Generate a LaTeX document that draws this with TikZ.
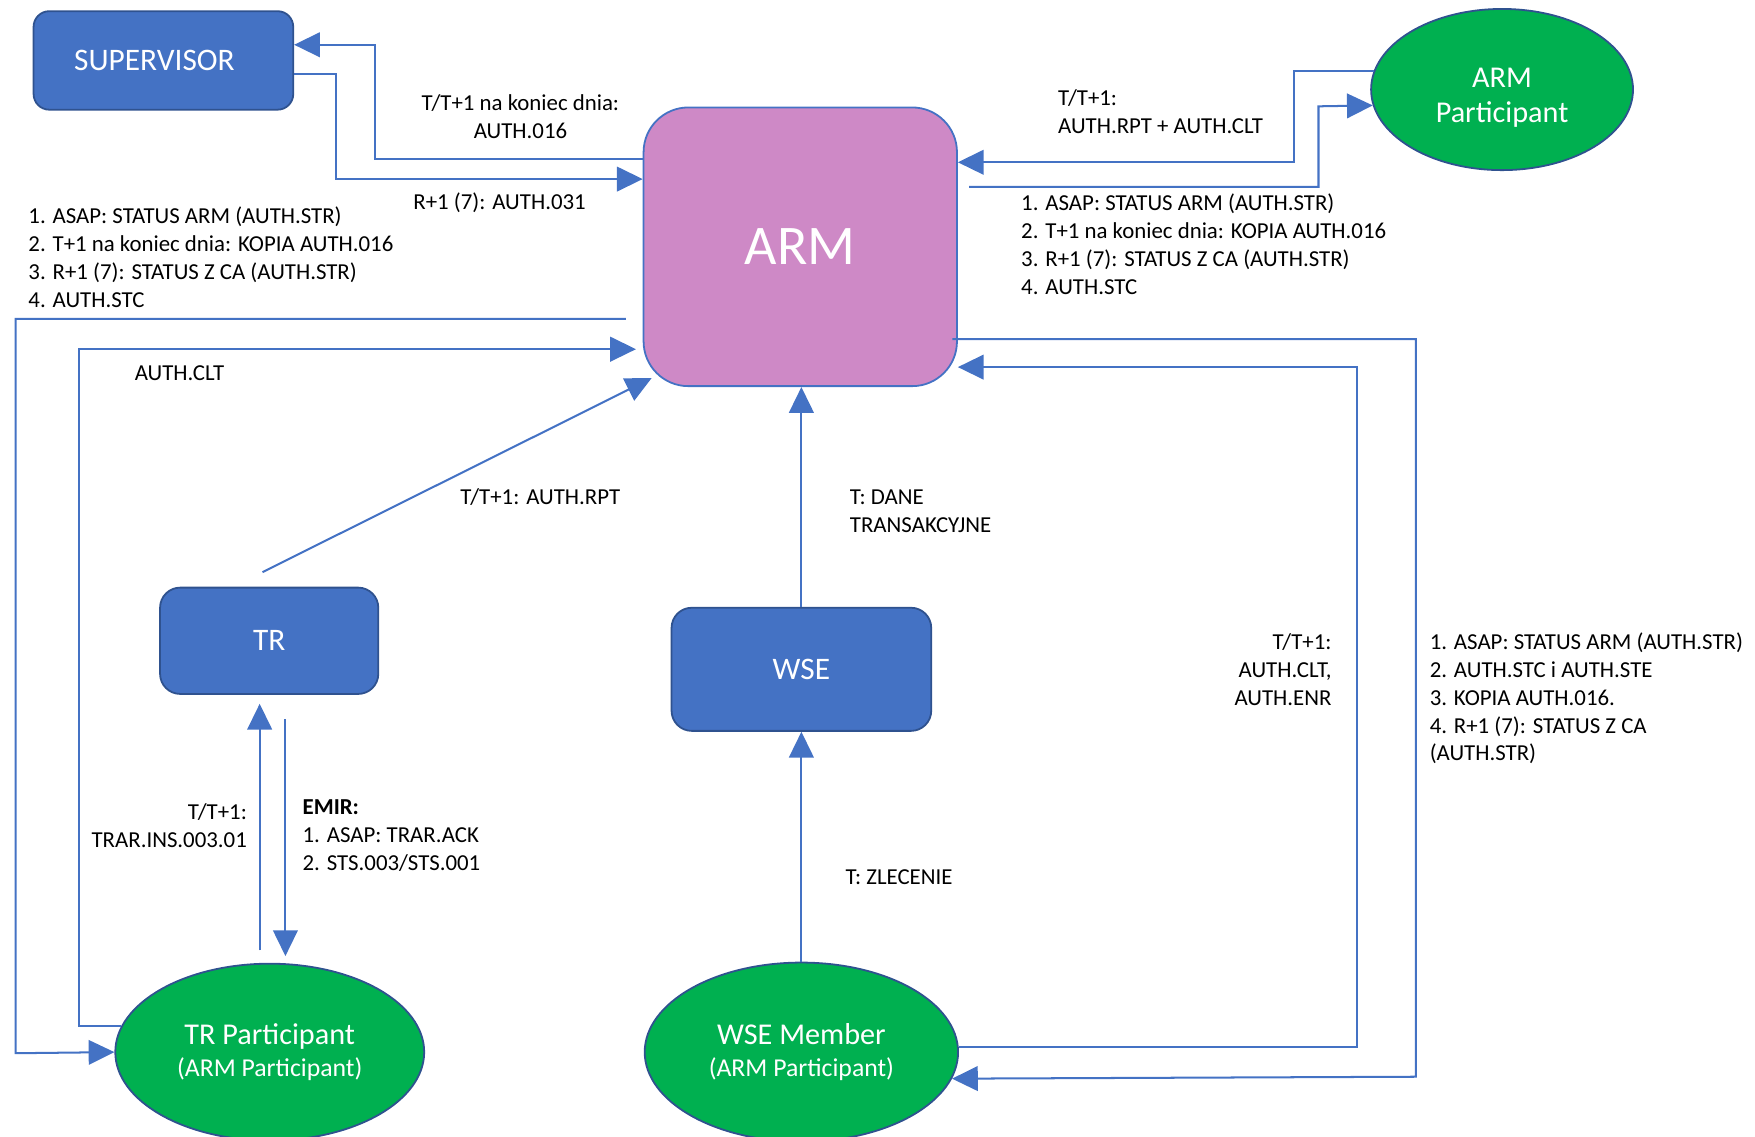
\documentclass[tikz,border=0pt]{standalone}
\usepackage{fontspec}
\setmainfont{Carlito}
\usetikzlibrary{arrows.meta,shapes.geometric,calc}
\definecolor{boxblue}{RGB}{68,114,196}
\definecolor{edgeblue}{RGB}{47,82,143}
\definecolor{armpink}{RGB}{206,137,198}
\definecolor{partgreen}{RGB}{0,176,80}
\begin{document}
\begin{tikzpicture}[x=0.5pt,y=-0.5pt,
  bluebox/.style={draw=edgeblue, line width=0.8pt, fill=boxblue, rounded corners=9pt, text=white, font=\fontsize{14}{16}\selectfont},
  armbox/.style={draw=boxblue, line width=0.8pt, fill=armpink, rounded corners=20pt, text=white, font=\fontsize{25}{28}\selectfont, minimum width=140pt, minimum height=124.5pt},
  greenell/.style={ellipse, draw=edgeblue, line width=0.8pt, fill=partgreen, text=white, align=center, inner sep=0pt, font=\fontsize{13.5}{15.5}\selectfont},
  conn/.style={draw=boxblue, line width=0.9pt},
  arr/.style={conn, -{Triangle[length=11.5pt,width=11pt]}},
  lbl/.style={font=\fontsize{10.2}{12.5}\selectfont, inner sep=0pt, align=left, anchor=north west, text=black},
  lblr/.style={lbl, align=right, anchor=north east},
  lblc/.style={lbl, align=center, anchor=north}
]
\useasboundingbox (0,0) rectangle (1568,1015);

% nodes
\node[bluebox, minimum width=116pt, minimum height=44pt, rounded corners=7pt] (sup) at (146,54) {\hspace*{-7pt}SUPERVISOR\hspace*{1pt}};
\node[armbox] (arm) at (715,220.5) {ARM};
\node[greenell, minimum width=117pt, minimum height=72pt] (armp) at (1342,80) {\rule{0pt}{16pt}ARM\\Participant};
\node[bluebox, minimum width=97.5pt, minimum height=47.5pt] (tr) at (240.5,572.5) {TR};
\node[bluebox, minimum width=116pt, minimum height=55pt] (wse) at (716,598) {WSE};
\node[greenell, minimum width=138pt, minimum height=79pt] (trp) at (241,940) {TR Participant\\[-1.5pt]{\fontsize{11.5}{14}\selectfont (ARM Participant)}};
\node[greenell, minimum width=140pt, minimum height=80pt] (wsem) at (716,940) {WSE Member\\[-1.5pt]{\fontsize{11.5}{14}\selectfont (ARM Participant)}};

% connectors
\draw[arr] (arm.west |- 0,142) -| (335,40) -- (sup.east |- 0,40);
\draw[arr] (sup.east |- 0,66) -| (300,160) -- (arm.west |- 0,160);
\draw[arr] (armp.172.5) -| (1156,145) -- (arm.east |- 0,145);
\draw[arr] ([xshift=5pt]arm.east |- 0,167) -| (1178,95) -- (armp.187.5);
\draw[arr] ([xshift=-7.5pt]arm.west |- 0,285) -| (14,941) -- (trp.west);
\draw[arr] (trp.170) -| (71,312) -- ([xshift=-3pt]arm.west |- 0,312);
\draw[arr] ([shift={(-3pt,6.5pt)}]tr.north) -- ([shift={(4pt,4pt)}]arm.south west);
\draw[arr] (wse.north) -- (wse.north |- arm.south);
\draw[arr] (wsem.north) -- (wse.south);
\draw[arr] (wsem.2.5) -| (1212,328) -- (arm.east |- 0,328);
\draw[arr] ([xshift=-2.5pt]arm.east |- 0,303) -| (1265,962) -- (wsem.350.7);
\draw[arr] ([shift={(-4.5pt,5.5pt)}]trp.north) -- ([shift={(-4.25pt,-4pt)}]tr.south);
\draw[arr] ([shift={(7.25pt,-11pt)}]tr.south) -- ([shift={(7pt,3pt)}]trp.north);

% labels
\node[lblc] (l1) at (465,81) {\strut T/T+1 na koniec dnia:\\AUTH.016};
\node[lbl] (l2) at (369,169) {\strut R+1 (7): AUTH.031};
\node[lbl] (l3) at (25,182) {\strut 1. ASAP: STATUS ARM (AUTH.STR)\\2. T+1 na koniec dnia: KOPIA AUTH.016\\3. R+1 (7): STATUS Z CA (AUTH.STR)\\4. AUTH.STC};
\node[lbl] (l4) at (120,322) {\strut AUTH.CLT};
\node[lbl] (l5) at (411,433) {\strut T/T+1: AUTH.RPT};
\node[lbl] (l6) at (759,433) {\strut T: DANE\\TRANSAKCYJNE};
\node[lbl] (l7) at (945,76) {\strut T/T+1:\\AUTH.RPT + AUTH.CLT};
\node[lbl] (l8) at (912,170) {\strut 1. ASAP: STATUS ARM (AUTH.STR)\\2. T+1 na koniec dnia: KOPIA AUTH.016\\3. R+1 (7): STATUS Z CA (AUTH.STR)\\4. AUTH.STC};
\node[lblr] (l9) at (1190,562) {\strut T/T+1:\\AUTH.CLT,\\AUTH.ENR};
\node[lbl] (l10) at (1277,562) {\strut 1. ASAP: STATUS ARM (AUTH.STR)\\2. AUTH.STC i AUTH.STE\\3. KOPIA AUTH.016.\\4. R+1 (7): STATUS Z CA\\(AUTH.STR)};
\node[lblr] (l11) at (221,714) {\strut T/T+1:\\TRAR.INS.003.01};
\node[lbl] (l12) at (270,710) {\strut\textbf{EMIR:}\\1. ASAP: TRAR.ACK\\2. STS.003/STS.001};
\node[lbl] (l13) at (755,772) {\strut T: ZLECENIE};
\end{tikzpicture}
\end{document}
